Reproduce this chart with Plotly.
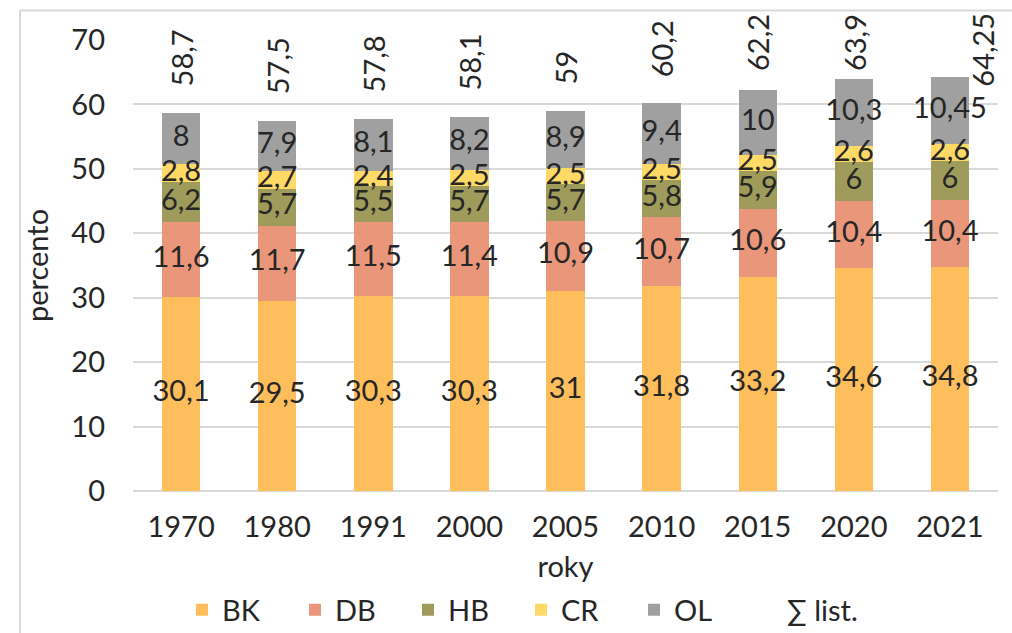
import plotly.graph_objects as go

years = ["1970", "1980", "1991", "2000", "2005", "2010", "2015", "2020", "2021"]
BK = [30.1, 29.5, 30.3, 30.3, 31.0, 31.8, 33.2, 34.6, 34.8]
DB = [11.6, 11.7, 11.5, 11.4, 10.9, 10.7, 10.6, 10.4, 10.4]
HB = [6.2, 5.7, 5.5, 5.7, 5.7, 5.8, 5.9, 6.0, 6.0]
CR = [2.8, 2.7, 2.4, 2.5, 2.5, 2.5, 2.5, 2.6, 2.6]
OL = [8.0, 7.9, 8.1, 8.2, 8.9, 9.4, 10.0, 10.3, 10.45]
TOTAL = [58.7, 57.5, 57.8, 58.1, 59.0, 60.2, 62.2, 63.9, 64.25]

series_names = ["BK", "DB", "HB", "CR", "OL"]
series_vals = [BK, DB, HB, CR, OL]
colors = ["#FFBE5C", "#EA967A", "#9E9B5B", "#FFD966", "#A0A0A0"]

FONT = "Lato, Liberation Sans, sans-serif"
FS = 29
TXT = "#262626"


def fmt(v):
    return ("%g" % v).replace(".", ",")


xs = list(range(len(years)))

fig = go.Figure()
for name, vals, col in zip(series_names, series_vals, colors):
    fig.add_trace(go.Bar(x=xs, y=vals, name=name, marker=dict(color=col, line=dict(width=0)),
                         hoverinfo="skip"))

base = [0.0] * len(years)
for vals in series_vals:
    mids = [b + v / 2 for b, v in zip(base, vals)]
    fig.add_trace(go.Scatter(x=xs, y=mids, mode="text", text=[fmt(v) for v in vals],
                             textfont=dict(family=FONT, size=FS, color=TXT),
                             showlegend=False, hoverinfo="skip", cliponaxis=False))
    base = [b + v for b, v in zip(base, vals)]

# legend-only entry for totals
fig.add_trace(go.Scatter(x=[0, 0], y=[0, 0], mode="lines", name="∑ list.",
                         line=dict(color="rgba(0,0,0,0)", width=0), hoverinfo="skip"))

# total labels (rotated), pushed down when they would leave the chart area
Y0_PX, UNIT_PX = 491.7, 451.5 / 70
TOP_LIMIT = (Y0_PX - 18) / UNIT_PX
for xi, tot in zip(xs, TOTAL):
    s = fmt(tot)
    length = sum(7 if c == "," else 16 for c in s) / UNIT_PX
    bottom = tot + 24 / UNIT_PX
    xshift = 0
    if bottom + length > TOP_LIMIT:
        bottom = TOP_LIMIT - length
        if bottom < tot:
            xshift = 33
    fig.add_annotation(x=xi, y=bottom, xref="x", yref="y", yanchor="bottom", xanchor="center",
                       text=s, textangle=-90, showarrow=False, xshift=xshift,
                       font=dict(family=FONT, size=FS, color=TXT))

# chart area frame (left and top edges)
top_frac = (633 - 10.5 - 141.5) / 451.5
left_frac = -113 / 865
fig.add_shape(type="line", xref="paper", yref="paper", x0=left_frac, x1=1.1, y0=top_frac,
              y1=top_frac, line=dict(color="#D9D9D9", width=2))
fig.add_shape(type="line", xref="paper", yref="paper", x0=left_frac, x1=left_frac,
              y0=top_frac, y1=-0.5, line=dict(color="#D9D9D9", width=2))

fig.update_layout(
    barmode="stack",
    bargap=0.6,
    width=1012, height=633,
    margin=dict(l=133, r=14, t=40, b=141.5, autoexpand=False),
    paper_bgcolor="white", plot_bgcolor="white",
    font=dict(family=FONT, size=FS, color=TXT),
    showlegend=True,
    legend=dict(orientation="h", xref="container", x=182 / 1012, xanchor="left",
                yref="container", y=1 - 610 / 633, yanchor="middle",
                font=dict(family=FONT, size=FS, color=TXT), entrywidth=68,
                itemwidth=30, traceorder="normal"),
    xaxis=dict(range=[-0.5, len(years) - 0.5], tickvals=xs, ticktext=years, automargin=False,
               showgrid=False, showline=False, zeroline=False, ticks="",
               tickfont=dict(family=FONT, size=FS, color=TXT),
               title=dict(text="roky", font=dict(family=FONT, size=FS, color=TXT), standoff=14),
               ticklabelstandoff=16),
    yaxis=dict(range=[0, 70], dtick=10, showgrid=True, gridcolor="#D9D9D9", gridwidth=2,
               automargin=False,
               zeroline=True, zerolinecolor="#D9D9D9", zerolinewidth=2, showline=False,
               ticks="", tickfont=dict(family=FONT, size=FS, color=TXT), ticklabelstandoff=27,
               title=dict(text="percento", font=dict(family=FONT, size=FS, color=TXT), standoff=14)),
)

fig.write_html("out.html", config={"displayModeBar": False},
               post_script="document.body.style.margin='0';document.body.style.overflow='hidden';")
